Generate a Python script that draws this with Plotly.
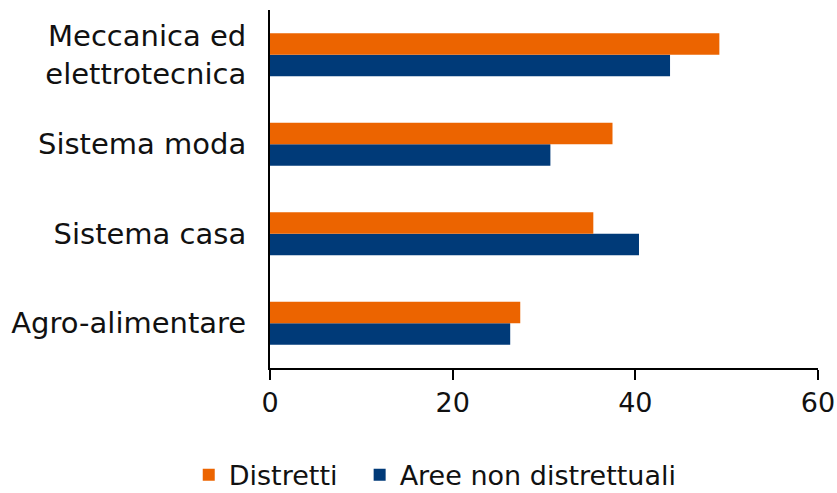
import plotly.graph_objects as go

categories = ["Meccanica ed<br>elettrotecnica", "Sistema moda", "Sistema casa", "Agro-alimentare"]
distretti = [49.2, 37.5, 35.4, 27.4]
aree_non_distrettuali = [43.8, 30.7, 40.4, 26.3]
x_ticks = [0, 20, 40, 60]

ORANGE = "#EC6400"
BLUE = "#003A78"
FONT = "DejaVu Sans"

fig = go.Figure()
fig.add_trace(go.Bar(
    y=categories, x=aree_non_distrettuali, orientation="h",
    name="Aree non distrettuali", marker=dict(color=BLUE, line=dict(width=0)),
    legendrank=2,
))
fig.add_trace(go.Bar(
    y=categories, x=distretti, orientation="h",
    name="Distretti  ", marker=dict(color=ORANGE, line=dict(width=0)),
    legendrank=1,
))

fig.update_layout(
    width=837, height=493,
    margin=dict(l=270, r=19, t=10, b=125),
    barmode="group", bargap=0.52, bargroupgap=0,
    plot_bgcolor="white", paper_bgcolor="white",
    font=dict(family=FONT, size=27, color="#111111"),
    showlegend=True,
    legend=dict(orientation="h", x=0.52, xanchor="center", xref="container",
                y=0.036, yanchor="middle", yref="container",
                font=dict(size=27), itemsizing="constant",
                traceorder="normal", itemwidth=30),
    xaxis=dict(range=[0, 60], tickvals=x_ticks, showgrid=False, zeroline=False,
               showline=True, linecolor="black", linewidth=1.5, automargin=False,
               ticks="outside", ticklen=10, tickwidth=1.5, tickcolor="black",
               tickfont=dict(size=27)),
    yaxis=dict(categoryorder="array", categoryarray=categories[::-1], automargin=False,
               showgrid=False, zeroline=False, showline=True, linecolor="black",
               linewidth=2, ticks="", ticklabelstandoff=16, tickfont=dict(size=29)),
)

fig.write_html("out.html", config={"displayModeBar": False},
               post_script="document.body.style.margin='0px';")
